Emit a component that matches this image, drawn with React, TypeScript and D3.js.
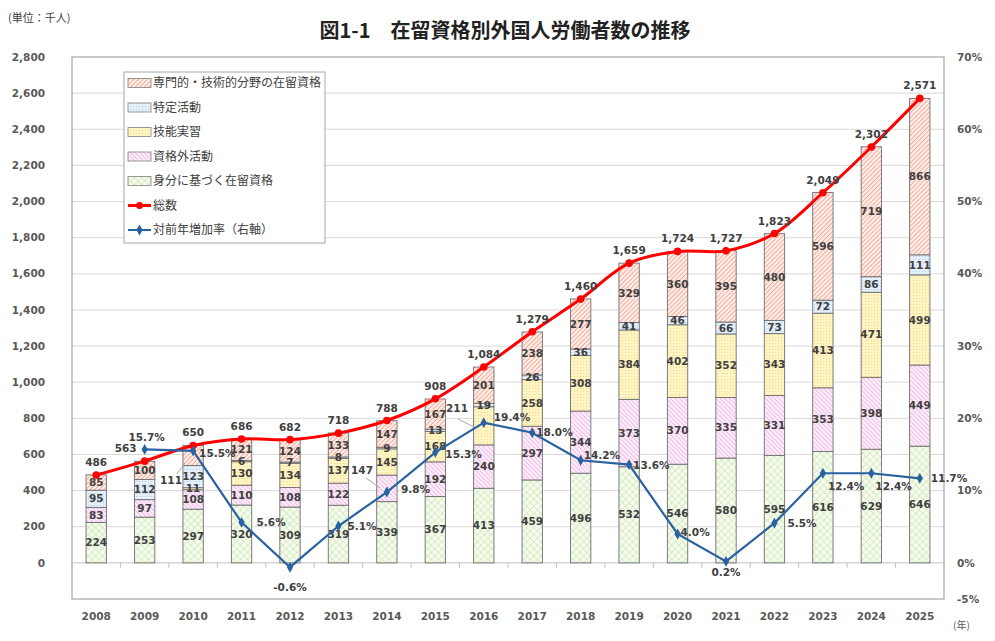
import React from 'react';
import * as d3 from 'd3';

// 年
const years = ['2008', '2009', '2010', '2011', '2012', '2013', '2014', '2015', '2016', '2017', '2018', '2019', '2020', '2021', '2022', '2023', '2024', '2025'];

// 在留資格別 (千人)
const specialist = [85, 100, 111, 121, 124, 133, 147, 167, 201, 238, 277, 329, 360, 395, 480, 596, 719, 866];
const designated = [95, 112, 123, 6, 7, 8, 9, 13, 19, 26, 36, 41, 46, 66, 73, 72, 86, 111];
const intern = [0, 0, 11, 130, 134, 137, 145, 168, 211, 258, 308, 384, 402, 352, 343, 413, 471, 499];
const activity = [83, 97, 108, 110, 108, 122, 147, 192, 240, 297, 344, 373, 370, 335, 331, 353, 398, 449];
const status = [224, 253, 297, 320, 309, 319, 339, 367, 413, 459, 496, 532, 546, 580, 595, 616, 629, 646];

const totals = [486, 563, 650, 686, 682, 718, 788, 908, 1084, 1279, 1460, 1659, 1724, 1727, 1823, 2049, 2302, 2571];
const growth = [null, 15.7, 15.5, 5.6, -0.6, 5.1, 9.8, 15.3, 19.4, 18.0, 14.2, 13.6, 4.0, 0.2, 5.5, 12.4, 12.4, 11.7];

const leftTicks = [0, 200, 400, 600, 800, 1000, 1200, 1400, 1600, 1800, 2000, 2200, 2400, 2600, 2800];
const rightTicks = [-5, 0, 10, 20, 30, 40, 50, 60, 70];

const seriesKeys = ['status', 'activity', 'intern', 'designated', 'specialist'];
const seriesNames: Record<string, string> = {
  specialist: '専門的・技術的分野の在留資格',
  designated: '特定活動',
  intern: '技能実習',
  activity: '資格外活動',
  status: '身分に基づく在留資格',
};
const seriesFill: Record<string, string> = {
  specialist: 'url(#pRed)',
  designated: 'url(#pBlue)',
  intern: 'url(#pYellow)',
  activity: 'url(#pPink)',
  status: 'url(#pGreen)',
};

// labels placed outside the bar with a leader line
const callouts: Record<string, { key: string; tx: number; ty: number; lx1: number; ly1: number; lx2: number; ly2: number }> = {
  '2010': { key: 'specialist', tx: 171, ty: 480, lx1: 177, ly1: 474, lx2: 185, ly2: 463 },
  '2014': { key: 'activity', tx: 362, ty: 470, lx1: 366, ly1: 478, lx2: 380, ly2: 488 },
  '2016': { key: 'intern', tx: 457, ty: 408, lx1: 458, ly1: 419, lx2: 474, ly2: 427 },
};

// growth label placement: dx, dy, anchor
const growthPos: Record<string, [number, number, string]> = {
  '2009': [2, -12, 'middle'],
  '2010': [6, 2, 'start'],
  '2011': [15, 0, 'start'],
  '2012': [0, 20, 'middle'],
  '2013': [9, 0, 'start'],
  '2014': [14, -3, 'start'],
  '2015': [10, 2, 'start'],
  '2016': [10, -5, 'start'],
  '2017': [4, 0, 'start'],
  '2018': [3, -5, 'start'],
  '2019': [4, 1, 'start'],
  '2020': [3, -2, 'start'],
  '2021': [0, 11, 'middle'],
  '2022': [13, 0, 'start'],
  '2023': [5, 13, 'start'],
  '2024': [4, 13, 'start'],
  '2025': [11, 0, 'start'],
};

const numFont = '"DejaVu Sans", Verdana, sans-serif';
const jpFont = '"Noto Sans CJK JP", "Noto Sans", sans-serif';

const App: React.FC = () => {
  const left = 72, right = 944, top = 57, bottom = 599;

  const x = d3.scaleBand<string>().domain(years).range([left, right]).paddingInner(0.58).paddingOuter(0.29);
  const bw = x.bandwidth();
  const cx = (y: string) => (x(y) as number) + bw / 2;
  const yL = d3.scaleLinear().domain([-200, 2800]).range([bottom, top]);
  const yR = d3.scaleLinear().domain([-5, 70]).range([bottom, top]);

  const table = years.map((yr, i) => ({
    year: yr,
    specialist: specialist[i],
    designated: designated[i],
    intern: intern[i],
    activity: activity[i],
    status: status[i],
  }));
  const stacked = d3.stack<any>().keys(seriesKeys)(table);

  const totalPts = years.map((yr, i) => ({ yr, v: totals[i] }));
  const totalLine = d3.line<{ yr: string; v: number }>()
    .x(d => cx(d.yr))
    .y(d => yL(d.v))
    .curve(d3.curveCatmullRom.alpha(0.5));

  const growthPts = years
    .map((yr, i) => ({ yr, v: growth[i] }))
    .filter(d => d.v !== null) as { yr: string; v: number }[];
  const growthLine = d3.line<{ yr: string; v: number }>()
    .x(d => cx(d.yr))
    .y(d => yR(d.v));

  const diamond = d3.symbol().type(d3.symbolDiamond).size(34)() as string;
  const step = x.step();
  const boundaries = d3.range(years.length + 1).map(i => left + i * step);

  const legendY = (i: number) => 83 + i * 24.5;
  const legendOrder = ['specialist', 'designated', 'intern', 'activity', 'status'];

  return (
    <svg width={995} height={641} style={{ position: 'absolute', left: 0, top: 0, background: '#fff' }}>
      <defs>
        <pattern id="pRed" width="3.2" height="3.2" patternUnits="userSpaceOnUse" patternTransform="rotate(45)">
          <rect width="3.2" height="3.2" fill="#fdebe5" />
          <line x1="0" y1="0" x2="0" y2="3.2" stroke="#f0826c" strokeWidth="1.1" />
        </pattern>
        <pattern id="pPink" width="3.2" height="3.2" patternUnits="userSpaceOnUse" patternTransform="rotate(-45)">
          <rect width="3.2" height="3.2" fill="#fcecf9" />
          <line x1="0" y1="0" x2="0" y2="3.2" stroke="#ee9fe0" strokeWidth="1.1" />
        </pattern>
        <pattern id="pBlue" width="3" height="3" patternUnits="userSpaceOnUse">
          <rect width="3" height="3" fill="#e6f0fa" />
          <circle cx="1.5" cy="1.5" r="0.6" fill="#a9c6e8" />
        </pattern>
        <pattern id="pYellow" width="3" height="3" patternUnits="userSpaceOnUse">
          <rect width="3" height="3" fill="#fff4c4" />
          <circle cx="1.5" cy="1.5" r="0.6" fill="#efd57c" />
        </pattern>
        <pattern id="pGreen" width="5" height="5" patternUnits="userSpaceOnUse" patternTransform="rotate(45)">
          <rect width="5" height="5" fill="#f6fbef" />
          <line x1="0" y1="0" x2="0" y2="5" stroke="#bfe09c" strokeWidth="1" />
          <line x1="0" y1="0" x2="5" y2="0" stroke="#bfe09c" strokeWidth="1" />
        </pattern>
      </defs>

      {/* title */}
      <text x={8} y={22} fontFamily={jpFont} fontSize={11} fill="#404040">(単位：千人)</text>
      <text x={505} y={38} textAnchor="middle" fontFamily={jpFont} fontWeight="bold" fontSize={20} fill="#222">
        図1-1　在留資格別外国人労働者数の推移
      </text>

      {/* gridlines */}
      {leftTicks.filter(t => t > 0 && t < 2800).map(t => (
        <line key={t} x1={left} x2={right} y1={yL(t)} y2={yL(t)} stroke="#d9d9d9" strokeWidth={1} />
      ))}
      <rect x={left} y={top} width={right - left} height={bottom - top} fill="none" stroke="#a6a6a6" strokeWidth={1.2} />
      <line x1={left} x2={right} y1={yL(0)} y2={yL(0)} stroke="#bfbfbf" strokeWidth={1} />
      {boundaries.map((bx, i) => (
        <line key={i} x1={bx} x2={bx} y1={yL(0)} y2={yL(0) + 5} stroke="#bfbfbf" strokeWidth={1} />
      ))}

      {/* axes labels */}
      {leftTicks.map(t => (
        <text key={t} x={45} y={yL(t)} dy="0.35em" textAnchor="end" fontFamily={numFont} fontWeight="bold" fontSize={10.5} fill="#595959">
          {d3.format(',')(t)}
        </text>
      ))}
      {rightTicks.map(t => (
        <text key={t} x={957} y={yR(t)} dy="0.35em" textAnchor="start" fontFamily={numFont} fontWeight="bold" fontSize={10.5} fill="#595959">
          {t}%
        </text>
      ))}
      {years.map(yr => (
        <text key={yr} x={cx(yr)} y={616} dy="0.35em" textAnchor="middle" fontFamily={numFont} fontWeight="bold" fontSize={10.5} fill="#595959">
          {yr}
        </text>
      ))}
      <text x={953} y={629} fontFamily={jpFont} fontSize={10} fill="#595959">(年)</text>

      {/* bars */}
      {stacked.map(layer => (
        <g key={layer.key}>
          {layer.map((d, i) => (d[1] - d[0] > 0 ? (
            <rect key={i} x={x(years[i])} y={yL(d[1])} width={bw} height={yL(d[0]) - yL(d[1])}
              fill={seriesFill[layer.key]} stroke="#6f6f6f" strokeWidth={0.9} />
          ) : null))}
        </g>
      ))}

      {/* segment labels */}
      {stacked.map(layer => (
        <g key={'l' + layer.key}>
          {layer.map((d, i) => {
            const v = d[1] - d[0];
            const yr = years[i];
            if (v <= 0) return null;
            const co = callouts[yr];
            if (co && co.key === layer.key) {
              return (
                <g key={i}>
                  <line x1={co.lx1} y1={co.ly1} x2={co.lx2} y2={co.ly2} stroke="#a6a6a6" strokeWidth={1} />
                  <text x={co.tx} y={co.ty} dy="0.35em" textAnchor="middle" fontFamily={numFont} fontWeight="bold" fontSize={10.5} fill="#404040">{v}</text>
                </g>
              );
            }
            return (
              <text key={i} x={cx(yr)} y={yL((d[0] + d[1]) / 2)} dy="0.35em" textAnchor="middle"
                fontFamily={numFont} fontWeight="bold" fontSize={10.5} fill="#404040">{v}</text>
            );
          })}
        </g>
      ))}

      {/* total line */}
      <path d={totalLine(totalPts) as string} fill="none" stroke="#ff0000" strokeWidth={3} />
      {totalPts.map(d => (
        <circle key={d.yr} cx={cx(d.yr)} cy={yL(d.v)} r={3.8} fill="#ff0000" />
      ))}
      {totalPts.map(d => (
        <text key={'t' + d.yr} x={cx(d.yr) + (d.yr === '2009' ? -19 : 0)} y={yL(d.v) - 9} textAnchor="middle"
          fontFamily={numFont} fontWeight="bold" fontSize={10.5} fill="#404040">
          {d3.format(',')(d.v)}
        </text>
      ))}

      {/* growth line */}
      <path d={growthLine(growthPts) as string} fill="none" stroke="#2862a0" strokeWidth={2.2} />
      {growthPts.map(d => (
        <path key={d.yr} d={diamond} transform={`translate(${cx(d.yr)},${yR(d.v)})`} fill="#2862a0" />
      ))}
      {growthPts.map(d => {
        const [dx, dy, anchor] = growthPos[d.yr];
        return (
          <text key={'g' + d.yr} x={cx(d.yr) + dx} y={yR(d.v) + dy} dy="0.35em" textAnchor={anchor as any}
            fontFamily={numFont} fontWeight="bold" fontSize={10.5} fill="#404040">
            {d.v.toFixed(1)}%
          </text>
        );
      })}

      {/* legend */}
      <rect x={124} y={72} width={201} height={171} fill="#fff" stroke="#a6a6a6" strokeWidth={1} />
      {legendOrder.map((k, i) => (
        <g key={k}>
          <rect x={128} y={legendY(i) - 4.5} width={23} height={9} fill={seriesFill[k]} stroke="#7f7f7f" strokeWidth={0.8} />
          <text x={153} y={legendY(i)} dy="0.35em" fontFamily={jpFont} fontSize={12} fill="#404040">{seriesNames[k]}</text>
        </g>
      ))}
      <line x1={128} x2={151} y1={legendY(5)} y2={legendY(5)} stroke="#ff0000" strokeWidth={3} />
      <circle cx={139.5} cy={legendY(5)} r={3.5} fill="#ff0000" />
      <text x={153} y={legendY(5)} dy="0.35em" fontFamily={jpFont} fontSize={12} fill="#404040">総数</text>
      <line x1={128} x2={151} y1={legendY(6)} y2={legendY(6)} stroke="#2862a0" strokeWidth={2} />
      <path d={diamond} transform={`translate(139.5,${legendY(6)})`} fill="#2862a0" />
      <text x={153} y={legendY(6)} dy="0.35em" fontFamily={jpFont} fontSize={12} fill="#404040">対前年増加率（右軸）</text>
    </svg>
  );
};

export default App;
